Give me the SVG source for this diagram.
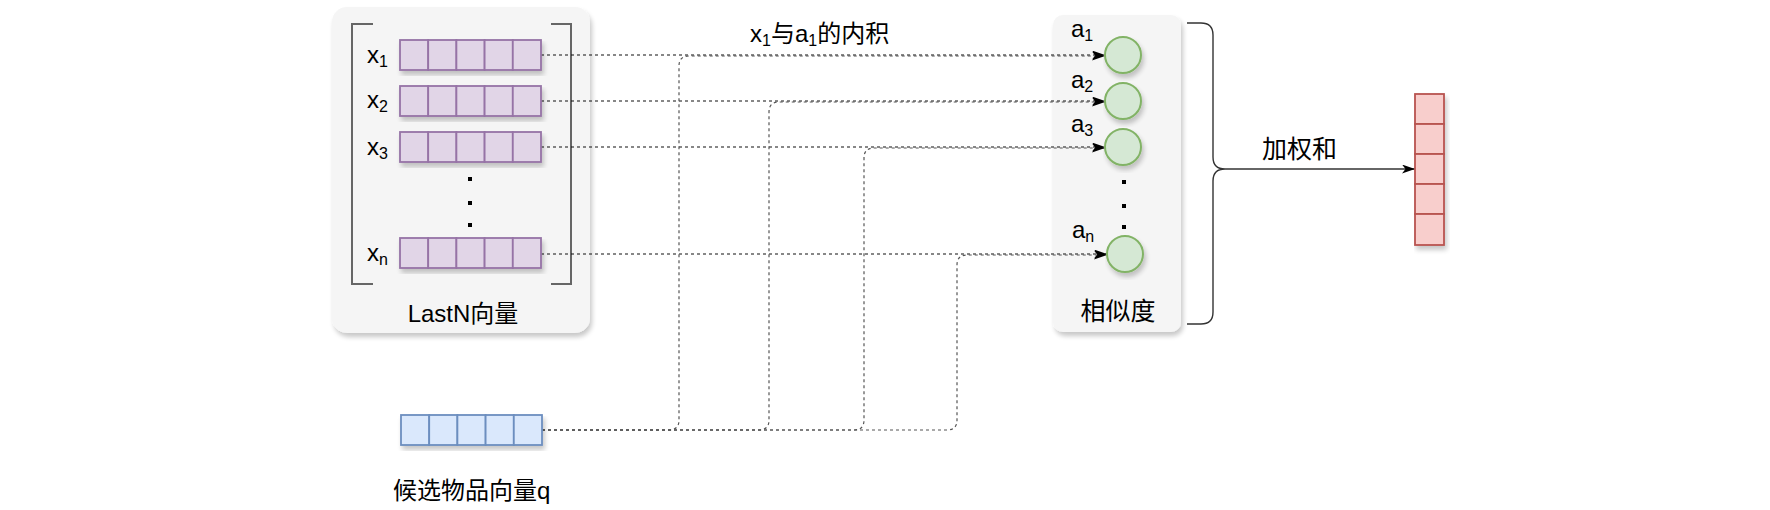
<svg xmlns="http://www.w3.org/2000/svg" width="1770" height="510" viewBox="0 0 1770 510">
<defs>
<style>
.t{font-family:"Liberation Sans","Noto Sans CJK SC",sans-serif;font-size:24px;fill:#000}
.cj{font-size:25px}
.sub{font-size:16px}
.box{fill:#f5f5f5;stroke:none}
.pc{fill:#e1d5e7;stroke:#9673a6;stroke-width:1.8}
.bc{fill:#dae8fc;stroke:#6c8ebf;stroke-width:1.8}
.rc{fill:#f8cecc;stroke:#b85450;stroke-width:1.8}
.cir{fill:#d5e8d4;stroke:#82b366;stroke-width:2}
.brk{fill:none;stroke:#666;stroke-width:2}
.dx{fill:none;stroke:#111;stroke-width:1.2;stroke-dasharray:3 3}
.dq{fill:none;stroke:#555;stroke-width:1.2;stroke-dasharray:3 3}
.dot{fill:#000}
</style>
<filter id="sh" x="-10%" y="-10%" width="130%" height="130%">
<feGaussianBlur in="SourceAlpha" stdDeviation="2.5"/>
<feOffset dx="2" dy="4" result="o"/>
<feComponentTransfer><feFuncA type="linear" slope="0.22"/></feComponentTransfer>
<feMerge><feMergeNode/><feMergeNode in="SourceGraphic"/></feMerge>
</filter>
<marker id="ar" markerUnits="userSpaceOnUse" markerWidth="14" markerHeight="10" refX="13" refY="4.5" orient="auto">
<path d="M0,0 L13,4.5 L0,9 L3.5,4.5 Z" fill="#000"/>
</marker>
</defs>
<rect width="1770" height="510" fill="#fff"/>

<g id="lastn-container">
<rect class="box" x="332" y="7" width="258" height="326" rx="15" filter="url(#sh)"/>
<path class="brk" d="M373,24 H352 V284 H373"/>
<path class="brk" d="M551,24 H571 V284 H551"/>
<text class="t" x="463" y="322" text-anchor="middle">LastN向量</text>
</g>

<g id="sim-container">
<rect class="box" x="1053" y="15" width="128" height="317" rx="10" filter="url(#sh)"/>
<text class="t cj" x="1118" y="320" text-anchor="middle">相似度</text>
</g>

<g id="connectors">
<path class="dx" d="M541,55 H1105" marker-end="url(#ar)"/>
<path class="dx" d="M541,101 H1105" marker-end="url(#ar)"/>
<path class="dx" d="M541,147 H1105" marker-end="url(#ar)"/>
<path class="dx" d="M541,254 H1107" marker-end="url(#ar)"/>
<path class="dq" d="M542,430 H669 Q679,430 679,420 V66 Q679,56 689,56 H1105" marker-end="url(#ar)"/>
<path class="dq" d="M542,430 H759 Q769,430 769,420 V112 Q769,102 779,102 H1105" marker-end="url(#ar)"/>
<path class="dq" d="M542,430 H854 Q864,430 864,420 V158 Q864,148 874,148 H1105" marker-end="url(#ar)"/>
<path class="dq" d="M542,430 H947 Q957,430 957,420 V265 Q957,255 967,255 H1107" marker-end="url(#ar)"/>
<path d="M1187,23 H1201 Q1213,23 1213,35 V157 Q1213,169 1225,169 Q1213,169 1213,181 V312 Q1213,324 1201,324 H1187" fill="none" stroke="#333" stroke-width="1.4"/>
<path d="M1225,169 H1415" fill="none" stroke="#333" stroke-width="1.6" marker-end="url(#ar)"/>
<text class="t" x="750" y="42">x<tspan class="sub" dy="4">1</tspan><tspan dy="-4">与a</tspan><tspan class="sub" dy="4">1</tspan><tspan dy="-4">的内积</tspan></text>
<text class="t cj" x="1262" y="158">加权和</text>
</g>

<g id="x1" filter="url(#sh)">
<rect class="pc" x="400" y="40" width="28.2" height="30"/><rect class="pc" x="428.2" y="40" width="28.2" height="30"/><rect class="pc" x="456.4" y="40" width="28.2" height="30"/><rect class="pc" x="484.6" y="40" width="28.2" height="30"/><rect class="pc" x="512.8" y="40" width="28.2" height="30"/>
</g>
<g id="x2" filter="url(#sh)">
<rect class="pc" x="400" y="86" width="28.2" height="30"/><rect class="pc" x="428.2" y="86" width="28.2" height="30"/><rect class="pc" x="456.4" y="86" width="28.2" height="30"/><rect class="pc" x="484.6" y="86" width="28.2" height="30"/><rect class="pc" x="512.8" y="86" width="28.2" height="30"/>
</g>
<g id="x3" filter="url(#sh)">
<rect class="pc" x="400" y="132" width="28.2" height="30"/><rect class="pc" x="428.2" y="132" width="28.2" height="30"/><rect class="pc" x="456.4" y="132" width="28.2" height="30"/><rect class="pc" x="484.6" y="132" width="28.2" height="30"/><rect class="pc" x="512.8" y="132" width="28.2" height="30"/>
</g>
<g id="xn" filter="url(#sh)">
<rect class="pc" x="400" y="238" width="28.2" height="30"/><rect class="pc" x="428.2" y="238" width="28.2" height="30"/><rect class="pc" x="456.4" y="238" width="28.2" height="30"/><rect class="pc" x="484.6" y="238" width="28.2" height="30"/><rect class="pc" x="512.8" y="238" width="28.2" height="30"/>
</g>
<g id="x-labels">
<text class="t" x="367" y="63">x<tspan class="sub" dy="4">1</tspan></text>
<text class="t" x="367" y="108">x<tspan class="sub" dy="4">2</tspan></text>
<text class="t" x="367" y="155">x<tspan class="sub" dy="4">3</tspan></text>
<text class="t" x="367" y="261">x<tspan class="sub" dy="4">n</tspan></text>
<rect class="dot" x="468" y="177" width="4" height="4"/>
<rect class="dot" x="468" y="201" width="4" height="4"/>
<rect class="dot" x="468" y="223" width="4" height="4"/>
</g>

<g id="q" filter="url(#sh)">
<rect class="bc" x="401" y="415" width="28.2" height="30"/><rect class="bc" x="429.2" y="415" width="28.2" height="30"/><rect class="bc" x="457.4" y="415" width="28.2" height="30"/><rect class="bc" x="485.6" y="415" width="28.2" height="30"/><rect class="bc" x="513.8" y="415" width="28.2" height="30"/>
</g>
<g id="q-label"><text class="t" x="393" y="499">候选物品向量q</text></g>

<g id="a1"><circle class="cir" cx="1123" cy="55" r="18" filter="url(#sh)"/><text class="t" x="1071" y="37">a<tspan class="sub" dy="4">1</tspan></text></g>
<g id="a2"><circle class="cir" cx="1123" cy="101" r="18" filter="url(#sh)"/><text class="t" x="1071" y="88">a<tspan class="sub" dy="4">2</tspan></text></g>
<g id="a3"><circle class="cir" cx="1123" cy="147" r="18" filter="url(#sh)"/><text class="t" x="1071" y="132">a<tspan class="sub" dy="4">3</tspan></text></g>
<g id="an"><circle class="cir" cx="1125" cy="254" r="18" filter="url(#sh)"/><text class="t" x="1072" y="238">a<tspan class="sub" dy="4">n</tspan></text></g>
<g id="a-dots">
<rect class="dot" x="1122" y="180" width="4" height="4"/>
<rect class="dot" x="1122" y="204" width="4" height="4"/>
<rect class="dot" x="1122" y="225" width="4" height="4"/>
</g>

<g id="result" filter="url(#sh)">
<rect class="rc" x="1415" y="94" width="29" height="30"/><rect class="rc" x="1415" y="124" width="29" height="30"/><rect class="rc" x="1415" y="154" width="29" height="30"/><rect class="rc" x="1415" y="184" width="29" height="30"/><rect class="rc" x="1415" y="214" width="29" height="31"/>
</g>
</svg>
